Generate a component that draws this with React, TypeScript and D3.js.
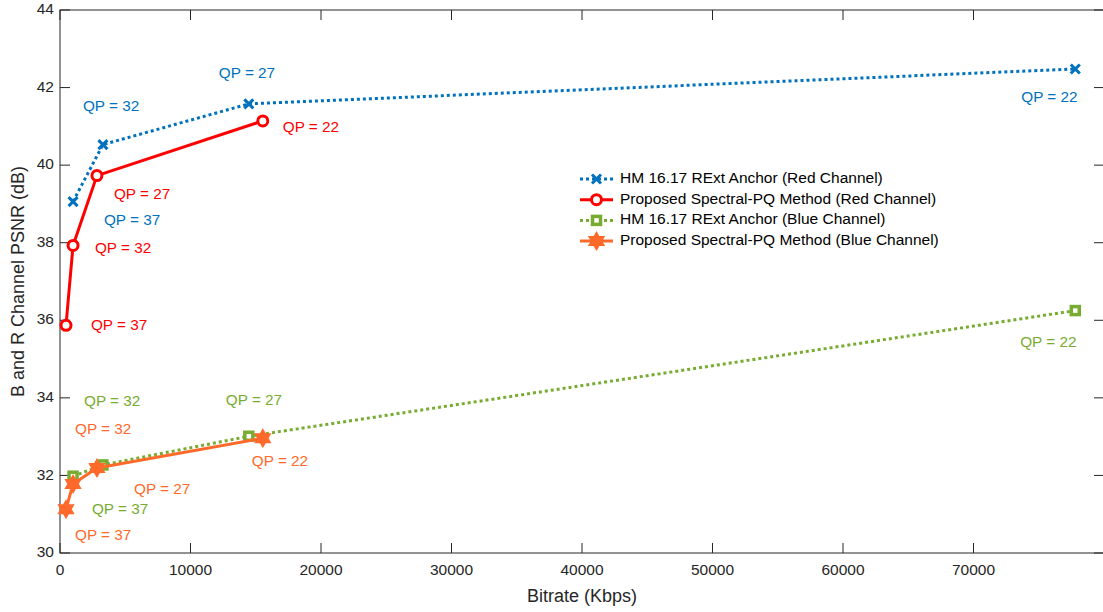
import React, { useEffect, useRef } from 'react';
import * as d3 from 'd3';

// bitrate (Kbps) and PSNR (dB)
const hmRedRate = [1000, 3290, 14470, 77800];
const hmRedPsnr = [39.06, 40.53, 41.58, 42.48];
const spRedRate = [460, 1000, 2830, 15540];
const spRedPsnr = [35.87, 37.93, 39.73, 41.14];
const hmBlueRate = [1000, 3290, 14470, 77800];
const hmBluePsnr = [31.98, 32.27, 33.01, 36.25];
const spBlueRate = [460, 1000, 2830, 15540];
const spBluePsnr = [31.13, 31.78, 32.19, 32.96];

const qpLabels = ['QP = 37', 'QP = 32', 'QP = 27', 'QP = 22'];
// text() anchors in data units, same order as qpLabels
const hmRedTextX = [3370, 1760, 12170, 73660];
const hmRedTextY = [38.55, 41.51, 42.36, 41.74];
const spRedTextX = [2370, 2680, 4135, 17070];
const spRedTextY = [35.85, 37.83, 39.22, 40.97];
const hmBlueTextX = [2450, 1840, 12710, 73580];
const hmBlueTextY = [31.11, 33.89, 33.92, 35.41];
const spBlueTextX = [1150, 1150, 5670, 14700];
const spBlueTextY = [30.44, 33.17, 31.63, 32.35];

const xTicks = [0, 10000, 20000, 30000, 40000, 50000, 60000, 70000, 80000];
const xTickLabels = ['0', '10000', '20000', '30000', '40000', '50000', '60000', '70000', ''];
const yTicks = [30, 32, 34, 36, 38, 40, 42, 44];

const legendNames = [
  'HM 16.17 RExt Anchor (Red Channel)',
  'Proposed Spectral-PQ Method (Red Channel)',
  'HM 16.17 RExt Anchor (Blue Channel)',
  'Proposed Spectral-PQ Method (Blue Channel)',
];

const W = 1103;
const H = 612;
const FONT = '"Liberation Sans", Arial, Helvetica, sans-serif';
const AXC = '#262626';

const App = () => {
  const ref = useRef<SVGSVGElement>(null);

  useEffect(() => {
    const svg = d3.select(ref.current);
    svg.selectAll('*').remove();

    const left = 60, right = 1104, top = 10, bottom = 553;
    const x = d3.scaleLinear().domain([0, 80000]).range([left, right]);
    const y = d3.scaleLinear().domain([30, 44]).range([bottom, top]);

    const series = [
      { rate: hmRedRate, psnr: hmRedPsnr, tx: hmRedTextX, ty: hmRedTextY, color: '#0072BD', dotted: true, marker: 'x' },
      { rate: spRedRate, psnr: spRedPsnr, tx: spRedTextX, ty: spRedTextY, color: '#FF0000', dotted: false, marker: 'o' },
      { rate: hmBlueRate, psnr: hmBluePsnr, tx: hmBlueTextX, ty: hmBlueTextY, color: '#77AC30', dotted: true, marker: 's' },
      { rate: spBlueRate, psnr: spBluePsnr, tx: spBlueTextX, ty: spBlueTextY, color: '#FF6A2B', dotted: false, marker: 'h' },
    ];

    // hexagram path
    const hexagram = (r: number) => {
      const pts: [number, number][] = [];
      for (let i = 0; i < 12; i++) {
        const a = (Math.PI / 6) * i - Math.PI / 2;
        const rr = i % 2 === 0 ? r : r * 0.577;
        pts.push([rr * Math.cos(a), rr * Math.sin(a)]);
      }
      return 'M' + pts.map((p) => p.join(',')).join('L') + 'Z';
    };

    const drawMarker = (g: any, kind: string, color: string) => {
      if (kind === 'x') {
        g.append('path').attr('d', 'M-4.5,-4.5L4.5,4.5M-4.5,4.5L4.5,-4.5')
          .attr('stroke', color).attr('stroke-width', 3).attr('fill', 'none');
      } else if (kind === 'o') {
        g.append('circle').attr('r', 5).attr('stroke', color).attr('stroke-width', 3).attr('fill', 'white');
      } else if (kind === 's') {
        g.append('rect').attr('x', -4).attr('y', -4).attr('width', 8).attr('height', 8)
          .attr('stroke', color).attr('stroke-width', 3.5).attr('fill', 'white');
      } else {
        g.append('path').attr('d', hexagram(7.5)).attr('stroke', color).attr('stroke-width', 2.5)
          .attr('stroke-linejoin', 'miter').attr('fill', color);
      }
    };

    // axes box
    const ax = svg.append('g');
    ax.append('rect').attr('x', left).attr('y', top).attr('width', right - left).attr('height', bottom - top)
      .attr('fill', 'white').attr('stroke', AXC).attr('stroke-width', 1);

    xTicks.forEach((t, i) => {
      ax.append('line').attr('x1', x(t)).attr('x2', x(t)).attr('y1', bottom).attr('y2', bottom - 10).attr('stroke', AXC);
      ax.append('line').attr('x1', x(t)).attr('x2', x(t)).attr('y1', top).attr('y2', top + 10).attr('stroke', AXC);
      ax.append('text').attr('x', x(t)).attr('y', bottom + 18).attr('text-anchor', 'middle')
        .attr('dominant-baseline', 'middle').attr('font-size', 15.5).attr('fill', AXC).attr('font-family', FONT)
        .text(xTickLabels[i]);
    });
    yTicks.forEach((t) => {
      ax.append('line').attr('x1', left).attr('x2', left + 10).attr('y1', y(t)).attr('y2', y(t)).attr('stroke', AXC);
      ax.append('line').attr('x1', right).attr('x2', right - 10).attr('y1', y(t)).attr('y2', y(t)).attr('stroke', AXC);
      ax.append('text').attr('x', left - 6).attr('y', y(t)).attr('text-anchor', 'end')
        .attr('dominant-baseline', 'middle').attr('font-size', 15.5).attr('fill', AXC).attr('font-family', FONT)
        .text(String(t));
    });

    ax.append('text').attr('x', (left + right) / 2).attr('y', 597).attr('text-anchor', 'middle')
      .attr('dominant-baseline', 'middle').attr('font-size', 18).attr('fill', AXC).attr('font-family', FONT)
      .text('Bitrate (Kbps)');
    ax.append('text').attr('transform', `translate(19,${(top + bottom) / 2}) rotate(-90)`).attr('text-anchor', 'middle')
      .attr('dominant-baseline', 'middle').attr('font-size', 18).attr('fill', AXC).attr('font-family', FONT)
      .text('B and R Channel PSNR (dB)');

    series.forEach((s) => {
      const pts = s.rate.map((r, i) => [x(r), y(s.psnr[i])] as [number, number]);
      svg.append('path').attr('d', d3.line()(pts)).attr('fill', 'none').attr('stroke', s.color)
        .attr('stroke-width', 3).attr('stroke-dasharray', s.dotted ? '3,3' : null).attr('stroke-linejoin', 'round');
      pts.forEach((p) => {
        const g = svg.append('g').attr('transform', `translate(${p[0]},${p[1]})`);
        drawMarker(g, s.marker, s.color);
      });
      qpLabels.forEach((lab, i) => {
        svg.append('text').attr('x', x(s.tx[i])).attr('y', y(s.ty[i])).attr('dominant-baseline', 'middle')
          .attr('font-size', 15.3).attr('fill', s.color).attr('font-family', FONT).text(lab);
      });
    });

    // legend
    const lg = svg.append('g');
    series.forEach((s, i) => {
      const ly = 179 + i * 20.7;
      lg.append('line').attr('x1', 580).attr('x2', 613).attr('y1', ly).attr('y2', ly).attr('stroke', s.color)
        .attr('stroke-width', 3).attr('stroke-dasharray', s.dotted ? '3,3' : null);
      drawMarker(lg.append('g').attr('transform', `translate(596.5,${ly})`), s.marker, s.color);
      lg.append('text').attr('x', 620).attr('y', ly).attr('dominant-baseline', 'middle').attr('font-size', 15.5)
        .attr('fill', '#000').attr('font-family', FONT).text(legendNames[i]);
    });
  }, []);

  return (
    <svg ref={ref} width={W} height={H} style={{ position: 'fixed', left: 0, top: 0, background: 'white' }} />
  );
};

export default App;
